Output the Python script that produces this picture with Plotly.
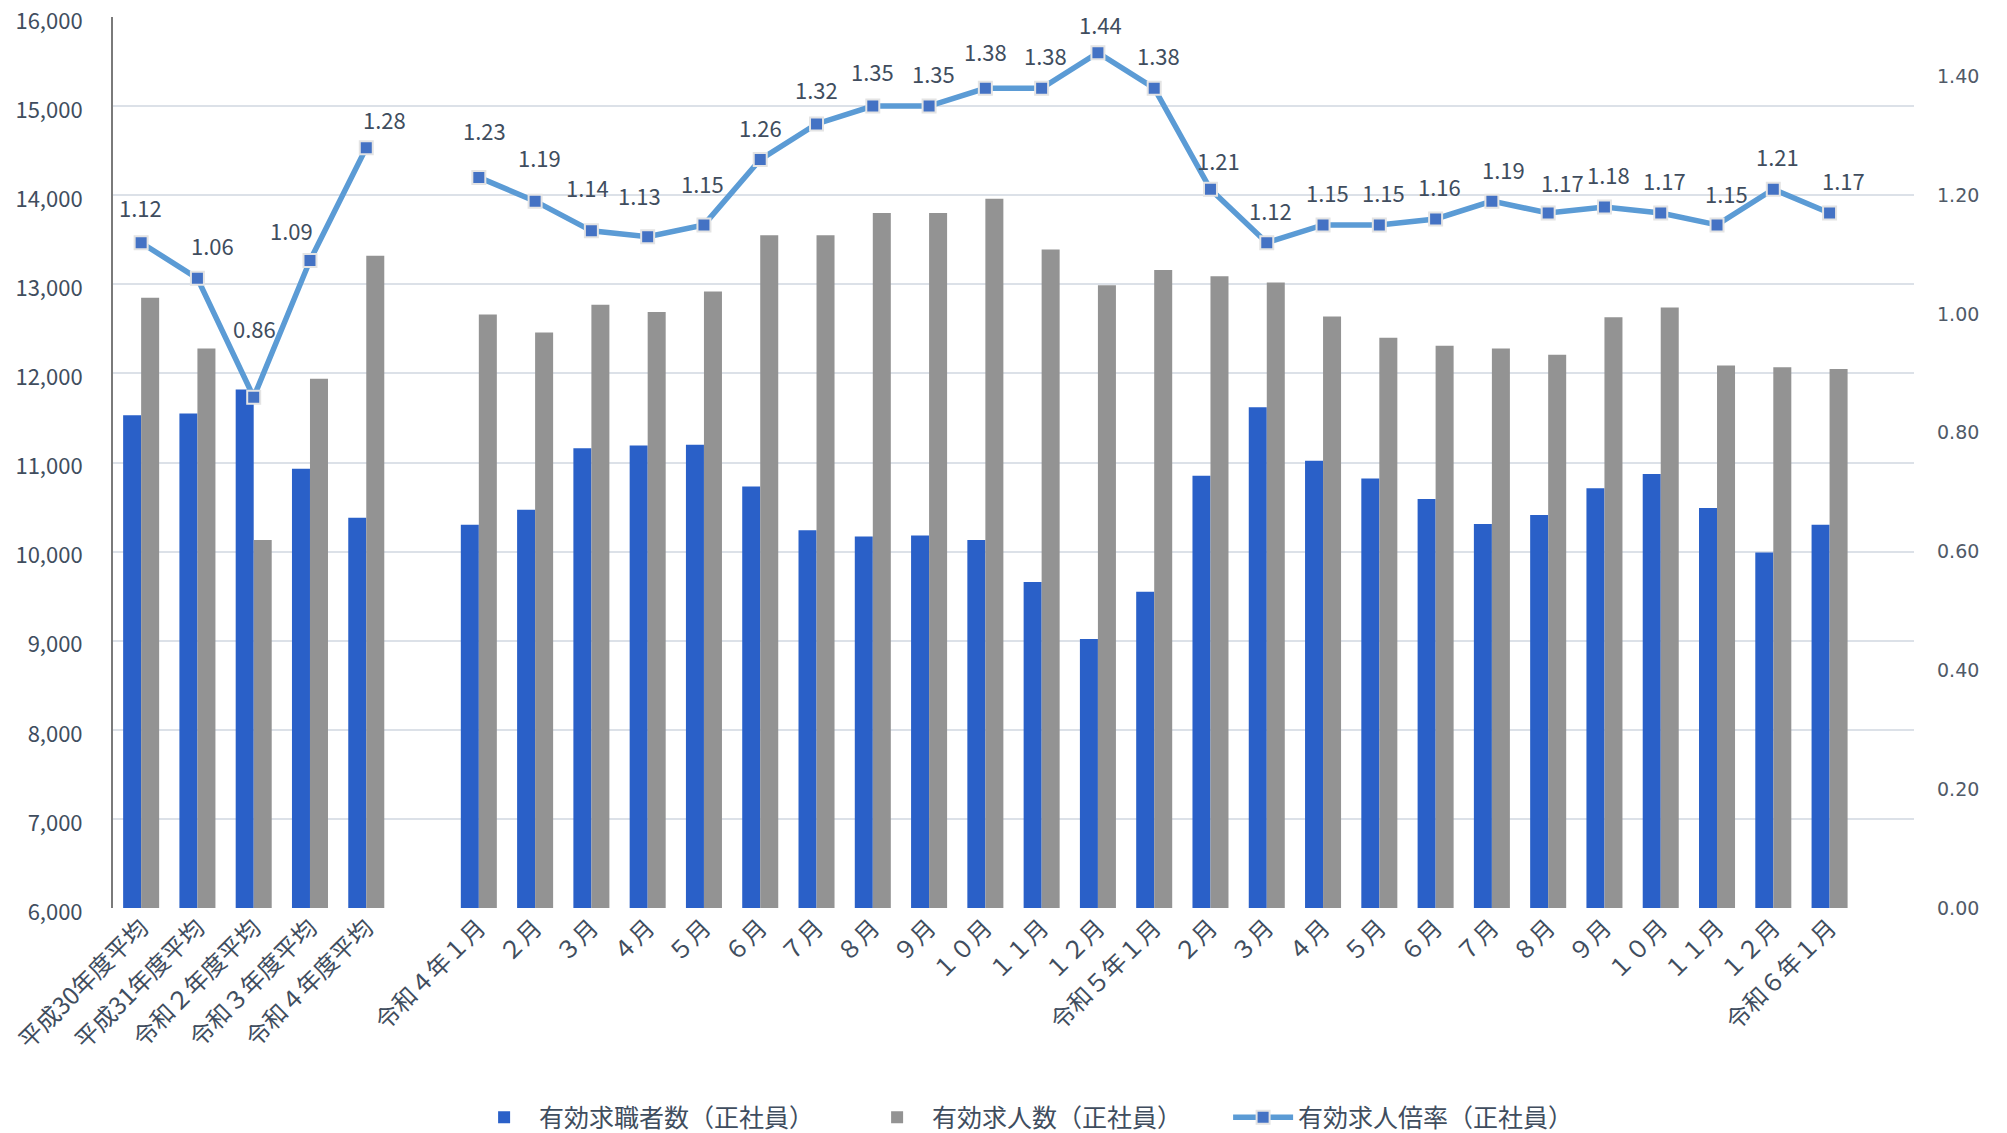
import plotly.graph_objects as go

# ---------------- data ----------------
categories = [
    "平成30年度平均", "平成31年度平均", "令和２年度平均", "令和３年度平均", "令和４年度平均", "",
    "令和４年１月", "２月", "３月", "４月", "５月", "６月", "７月", "８月", "９月", "１０月", "１１月", "１２月",
    "令和５年１月", "２月", "３月", "４月", "５月", "６月", "７月", "８月", "９月", "１０月", "１１月", "１２月",
    "令和６年１月", "",
]

job_seekers = [  # 有効求職者数（正社員）
    11530, 11550, 11820, 10930, 10380, None,
    10300, 10470, 11160, 11190, 11200, 10730, 10240, 10170, 10180, 10130, 9660, 9020,
    9550, 10850, 11620, 11020, 10820, 10590, 10310, 10410, 10710, 10870, 10490, 9990,
    10300, None,
]

job_offers = [  # 有効求人数（正社員）
    12850, 12280, 10130, 11940, 13320, None,
    12660, 12460, 12770, 12690, 12920, 13550, 13550, 13800, 13800, 13960, 13390, 12990,
    13160, 13090, 13020, 12640, 12400, 12310, 12280, 12210, 12630, 12740, 12090, 12070,
    12050, None,
]

ratio = [  # 有効求人倍率（正社員）
    1.12, 1.06, 0.86, 1.09, 1.28, None,
    1.23, 1.19, 1.14, 1.13, 1.15, 1.26, 1.32, 1.35, 1.35, 1.38, 1.38, 1.44,
    1.38, 1.21, 1.12, 1.15, 1.15, 1.16, 1.19, 1.17, 1.18, 1.17, 1.15, 1.21,
    1.17, None,
]

series_names = ["有効求職者数（正社員）", "有効求人数（正社員）", "有効求人倍率（正社員）"]

left_ticks = [6000, 7000, 8000, 9000, 10000, 11000, 12000, 13000, 14000, 15000, 16000]
right_ticks = [0.0, 0.2, 0.4, 0.6, 0.8, 1.0, 1.2, 1.4]

# ---------------- styles ----------------
FONT = "Noto Sans CJK JP"
TXT = "#404D5E"
BLUE = "#2A60C8"
GRAY = "#939393"
LINE = "#5B9BD5"
MARK = "#4472C4"
GRID = "#DCE1E8"

# label offsets (px, x right / y up) - default and per-point overrides
label_default = (4, 33)
label_override = {
    0: (-1, 36), 1: (15, 33), 2: (1, 69), 3: (-18, 31), 4: (18, 29),
    6: (6, 47), 7: (4, 44), 8: (-4, 44), 9: (-8, 42), 10: (-1, 42),
    11: (0, 33), 12: (0, 35), 13: (0, 35), 15: (0, 37), 17: (3, 29),
    19: (8, 29), 24: (12, 32), 25: (14, 31), 28: (9, 32), 30: (14, 33),
}
legend_widths = [318, 291, 262]   # legend entry widths (px)

x_pos = list(range(len(categories)))

fig = go.Figure()
fig.add_trace(go.Bar(x=x_pos, y=job_seekers, name=series_names[0], legendwidth=legend_widths[0],
                     marker=dict(color=BLUE, line=dict(width=0))))
fig.add_trace(go.Bar(x=x_pos, y=job_offers, name=series_names[1], legendwidth=legend_widths[1],
                     marker=dict(color=GRAY, line=dict(width=0))))
fig.add_trace(go.Scatter(x=x_pos, y=ratio, name=series_names[2], yaxis="y2",
                         legendwidth=legend_widths[2],
                         mode="lines+markers", connectgaps=False,
                         line=dict(color=LINE, width=5.5),
                         marker=dict(symbol="square", size=13, color=MARK,
                                     line=dict(color="#E4E4E4", width=2))))

annotations = []
for i, v in enumerate(ratio):
    if v is None:
        continue
    dx, dy = label_override.get(i, label_default)
    annotations.append(dict(x=x_pos[i], y=v, xref="x", yref="y2", text=f"{v:.2f}",
                            showarrow=False, xshift=dx, yshift=dy,
                            font=dict(family=FONT, size=22, color=TXT)))

# the page body adds an 8px offset; sizes below compensate for it
W, H = 1999, 1125
ML, MR, MT, MB = 105, 93, 9, 225

fig.update_layout(
    width=W, height=H,
    margin=dict(l=ML, r=MR, t=MT, b=MB, autoexpand=False),
    paper_bgcolor="white", plot_bgcolor="white",
    font=dict(family=FONT, color=TXT),
    barmode="group", bargap=0.36, bargroupgap=0.0,
    showlegend=True,
    legend=dict(orientation="h", x=0.502, xanchor="center", y=-0.235, yanchor="middle",
                font=dict(family=FONT, size=25, color=TXT), traceorder="normal",
                itemwidth=60),
    xaxis=dict(tickmode="array", tickvals=x_pos, ticktext=categories,
               range=[-0.5, len(categories) - 0.5], tickangle=-45,
               tickfont=dict(family=FONT, size=24, color=TXT),
               showgrid=False, zeroline=False, showline=False, ticks="",
               ticklabeloverflow="allow", automargin=False),
    yaxis=dict(range=[6000, 16000], tickvals=left_ticks, tickformat=",d",
               tickfont=dict(family=FONT, size=22, color=TXT),
               showgrid=True, gridcolor=GRID, gridwidth=2,
               showline=True, linecolor="#7A7A7A", linewidth=2,
               zeroline=False, ticks="", ticklabelstandoff=24, ticklabelshift=4,
               ticklabeloverflow="allow", automargin=False),
    yaxis2=dict(range=[0, 1.5], tickvals=right_ticks, tickformat=".2f",
                overlaying="y", side="right",
                tickfont=dict(family="DejaVu Sans", size=19, color="#505A68"),
                showgrid=False, zeroline=False, showline=False, ticks="",
                ticklabelstandoff=22, ticklabeloverflow="allow", automargin=False),
    annotations=annotations,
)

fig.write_html("out.html")
